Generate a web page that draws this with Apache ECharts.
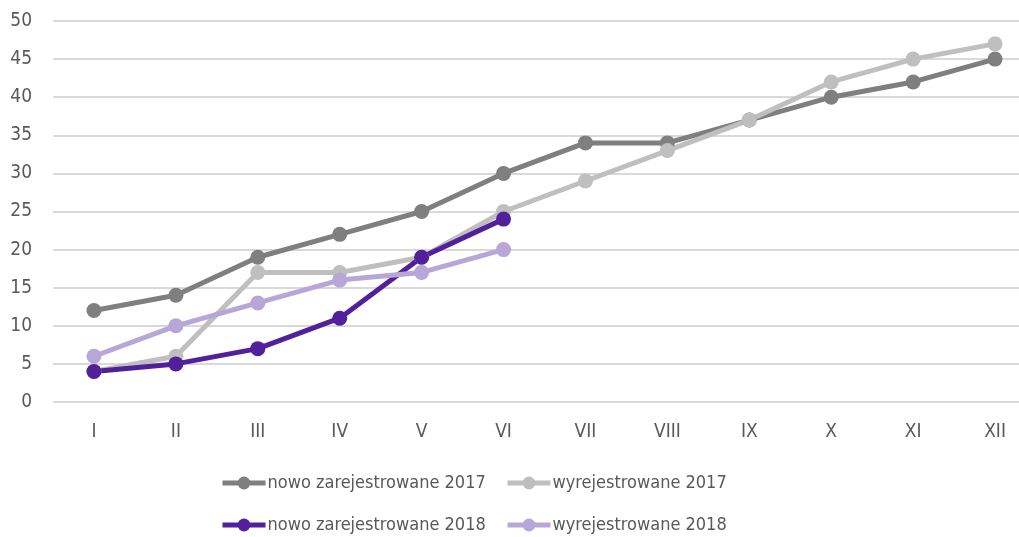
<!DOCTYPE html>
<html>
<head>
<meta charset="utf-8">
<title>rejestracje</title>
<script src="https://cdn.jsdelivr.net/npm/echarts@6/dist/echarts.min.js"></script>
<style>
  html, body { margin: 0; padding: 0; background: #fff; }
  #chart { width: 1019px; height: 537px; }
</style>
</head>
<body>
<div id="chart"></div>
<script>
// miesiace i dane
var months = ['I', 'II', 'III', 'IV', 'V', 'VI', 'VII', 'VIII', 'IX', 'X', 'XI', 'XII'];
var yTicks = [0, 5, 10, 15, 20, 25, 30, 35, 40, 45, 50];
var nowo2017 = [12, 14, 19, 22, 25, 30, 34, 34, 37, 40, 42, 45];
var wyrej2017 = [4, 6, 17, 17, 19, 25, 29, 33, 37, 42, 45, 47];
var nowo2018 = [4, 5, 7, 11, 19, 24];
var wyrej2018 = [6, 10, 13, 16, 17, 20];

var font = "'Liberation Sans Narrow', 'DejaVu Sans Condensed', sans-serif";
var txt = '#595959';

function serie(name, data, color) {
  return {
    name: name,
    type: 'line',
    data: data,
    symbol: 'circle',
    symbolSize: 15,
    lineStyle: { width: 5, color: color },
    itemStyle: { color: color },
    emphasis: { disabled: true }
  };
}

function legenda(name, left, top) {
  return {
    data: [name],
    left: left,
    top: top,
    padding: 0,
    itemWidth: 43,
    itemHeight: 16,
    itemGap: 5,
    lineStyle: { width: 5 },
    textStyle: { fontFamily: font, fontSize: 18, color: txt, padding: [0, 0, 0, -3] }
  };
}

var chart = echarts.init(document.getElementById('chart'));
chart.setOption({
  animation: false,
  grid: { left: 53, width: 983, top: 21, height: 381, containLabel: false, outerBoundsMode: 'none' },
  legend: [
    legenda('nowo zarejestrowane 2017', 220, 474),
    legenda('wyrejestrowane 2017', 505, 474),
    legenda('nowo zarejestrowane 2018', 220, 516),
    legenda('wyrejestrowane 2018', 505, 516)
  ],
  xAxis: {
    type: 'category',
    data: months,
    boundaryGap: true,
    axisLine: { show: false },
    axisTick: { show: false },
    axisLabel: { color: txt, fontFamily: font, fontSize: 19, margin: 21 }
  },
  yAxis: {
    type: 'value',
    min: yTicks[0],
    max: yTicks[yTicks.length - 1],
    interval: 5,
    axisLabel: { color: txt, fontFamily: font, fontSize: 19, margin: 21 },
    splitLine: { lineStyle: { color: '#d9d9d9', width: 2 } }
  },
  series: [
    serie('nowo zarejestrowane 2017', nowo2017, '#7f7f7f'),
    serie('wyrejestrowane 2017', wyrej2017, '#bfbfbf'),
    serie('nowo zarejestrowane 2018', nowo2018, '#51209a'),
    serie('wyrejestrowane 2018', wyrej2018, '#b7a6d8')
  ]
});
</script>
</body>
</html>
